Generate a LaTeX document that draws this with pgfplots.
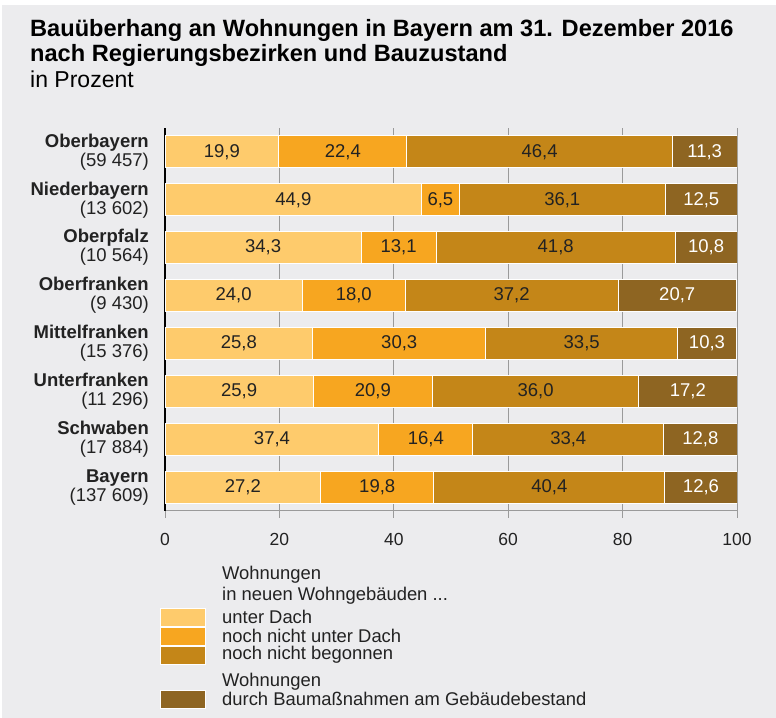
\documentclass[border=0pt]{standalone}
\usepackage{pgfplots}
\pgfplotsset{compat=1.18}
\usepackage{pgfplotstable}
\usepackage{fontspec}
\setmainfont{Liberation Sans}
\definecolor{bg}{HTML}{ECECEE}
\definecolor{c1}{HTML}{FECB6C}
\definecolor{c2}{HTML}{F7A620}
\definecolor{c3}{HTML}{C48618}
\definecolor{c4}{HTML}{8E6522}
\definecolor{gridc}{HTML}{9A9A9A}
\definecolor{txt}{HTML}{222222}
\pgfplotstableread{
idx a b c d
7 19.9 22.4 46.4 11.3
6 44.9 6.5 36.1 12.5
5 34.3 13.1 41.8 10.8
4 24.0 18.0 37.2 20.7
3 25.8 30.3 33.5 10.3
2 25.9 20.9 36.0 17.2
1 37.4 16.4 33.4 12.8
0 27.2 19.8 40.4 12.6
}\data
\pgfplotsset{
  geom/.style={at={(165bp,207bp)}, anchor=south west, scale only axis,
    width=572bp, height=383bp, xmin=0, xmax=100, ymin=-0.5, ymax=7.5},
  seg/.style={fill=#1, draw=white, line width=1bp},
  vlab/.style={draw=none, mark=none,
    nodes near coords={\pgfmathprintnumber[assume math mode=true, use comma, fixed, fixed zerofill, precision=1]{\pgfplotspointmeta}},
    point meta=explicit,
    every node near coord/.append style={anchor=center, text=#1, inner sep=0pt,
      font=\fontsize{18.5bp}{20bp}\selectfont}},
}
\begin{document}
\begin{tikzpicture}[x=1bp, y=1bp]
\fill[white] (0,0) rectangle (776,718);
\fill[bg] (2,0) rectangle (776,713);
\path[use as bounding box] (0,0) rectangle (776,718);
\node[anchor=base west, inner sep=0pt, text=black] at (30,681) {\bfseries\fontsize{23.6bp}{26bp}\selectfont Bauüberhang an Wohnungen in Bayern am 31. Dezember 2016};
\node[anchor=base west, inner sep=0pt, text=black] at (30,656) {\bfseries\fontsize{23.6bp}{26bp}\selectfont nach Regierungsbezirken und Bauzustand};
\node[anchor=base west, inner sep=0pt, text=black] at (30,630) {\fontsize{23bp}{26bp}\selectfont in Prozent};
\begin{axis}[
  geom,
  xbar stacked, bar width=32bp,
  xtick={0,20,40,60,80,100},
  ytick={0,...,7},
  yticklabels={
    {\textbf{Bayern}\\(137 609)},
    {\textbf{Schwaben}\\(17 884)},
    {\textbf{Unterfranken}\\(11 296)},
    {\textbf{Mittelfranken}\\(15 376)},
    {\textbf{Oberfranken}\\(9 430)},
    {\textbf{Oberpfalz}\\(10 564)},
    {\textbf{Niederbayern}\\(13 602)},
    {\textbf{Oberbayern}\\(59 457)}},
  axis x line*=bottom, axis y line*=left,
  x axis line style={gridc, line width=1bp, -},
  y axis line style={black, line width=1.4bp, -},
  xmajorgrids, grid style={gridc, line width=0.9bp},
  tick align=outside, major tick length=7bp,
  xtick style={gridc, line width=0.9bp},
  ytick style={draw=none},
  /pgf/number format/assume math mode=true,
  xticklabel style={inner sep=0pt, yshift=-15bp, text=txt, font=\fontsize{17.5bp}{20bp}\selectfont},
  yticklabel style={inner sep=0pt, xshift=-9bp, align=right, text=txt, font=\fontsize{18.5bp}{19bp}\selectfont},
]
\addplot[seg=c1] table[x=a, y=idx] {\data};
\addplot[seg=c2] table[x=b, y=idx] {\data};
\addplot[seg=c3] table[x=c, y=idx] {\data};
\addplot[seg=c4] table[x=d, y=idx] {\data};
\end{axis}
\begin{axis}[geom, hide axis, clip=false]
\addplot[vlab=txt] table[x expr={\thisrow{a}/2}, y=idx, meta=a] {\data};
\addplot[vlab=txt] table[x expr={\thisrow{a}+\thisrow{b}/2}, y=idx, meta=b] {\data};
\addplot[vlab=txt] table[x expr={\thisrow{a}+\thisrow{b}+\thisrow{c}/2}, y=idx, meta=c] {\data};
\addplot[vlab=white] table[x expr={\thisrow{a}+\thisrow{b}+\thisrow{c}+\thisrow{d}/2}, y=idx, meta=d] {\data};
\end{axis}
\begin{scope}[every node/.style={anchor=base west, inner sep=0pt, text=txt, font=\fontsize{18.4bp}{20bp}\selectfont}]
\node at (222,138) {Wohnungen};
\node at (222,117.3) {in neuen Wohngebäuden ...};
\node at (222,94) {unter Dach};
\node at (222,75.3) {noch nicht unter Dach};
\node at (222,58) {noch nicht begonnen};
\node at (222,31.3) {Wohnungen};
\node at (222,12.3) {durch Baumaßnahmen am Gebäudebestand};
\end{scope}
\begin{scope}[draw=white, line width=0.7bp]
\filldraw[fill=c1] (160,110) rectangle (205,91.5);
\filldraw[fill=c2] (160,91) rectangle (205,72.5);
\filldraw[fill=c3] (160,72) rectangle (205,53.5);
\filldraw[fill=c4] (160,28) rectangle (205,9.5);
\end{scope}
\end{tikzpicture}
\end{document}
